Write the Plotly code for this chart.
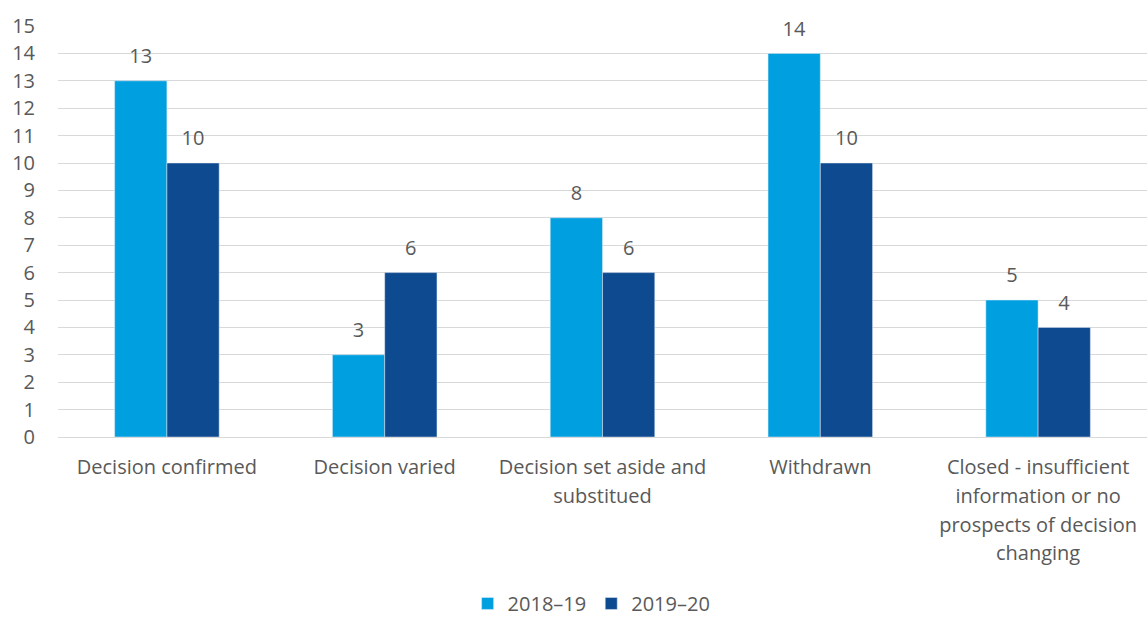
import plotly.graph_objects as go

categories = [
    "Decision confirmed",
    "Decision varied",
    "Decision set aside and<br>substitued",
    "Withdrawn",
    "Closed - insufficient<br>information or no<br>prospects of decision<br>changing",
]
series_2018 = [13, 3, 8, 14, 5]
series_2019 = [10, 6, 6, 10, 4]
tick_vals = list(range(0, 16))

FONT = "Open Sans"
GREY = "#595959"
FS = 20

# wrap category labels so the line spacing (set by the outer font) is wider
cat_labels = ["<br>".join(f"<span style='font-size:{FS}px'>{p}</span>" for p in c.split("<br>"))
              for c in categories]

label_tpl = f"<span style='font-size:{FS}px'>%{{y}}</span><br> "

fig = go.Figure()
fig.add_trace(go.Bar(
    name="2018–19", x=cat_labels, y=series_2018,
    marker_color="#00A0E0", text=series_2018, texttemplate=label_tpl, textposition="outside",
    textfont=dict(size=9, color=GREY, family=FONT), cliponaxis=False,
))
fig.add_trace(go.Bar(
    name="2019–20", x=cat_labels, y=series_2019,
    marker_color="#0E4A8F", text=series_2019, texttemplate=label_tpl, textposition="outside",
    textfont=dict(size=9, color=GREY, family=FONT), cliponaxis=False,
))

fig.update_layout(
    width=1147, height=617,
    margin=dict(l=58, r=0, t=26, b=180, autoexpand=False),
    plot_bgcolor="white", paper_bgcolor="white",
    barmode="group", bargap=0.52, bargroupgap=0,
    font=dict(family=FONT, size=FS, color=GREY),
    legend=dict(orientation="h", x=0.49, xanchor="center", y=-0.405, yanchor="middle",
                font=dict(size=FS, color=GREY), traceorder="normal",
                itemwidth=30, tracegroupgap=0),
    showlegend=True,
)
fig.update_yaxes(range=[0, 15], tickvals=tick_vals, showgrid=True, gridcolor="#D9D9D9",
                 gridwidth=1, zeroline=False, ticks="", ticklabelstandoff=22,
                 tickfont=dict(size=FS, color=GREY), automargin=False)
fig.update_xaxes(showline=True, linecolor="#D9D9D9", linewidth=1, ticks="",
                 ticklabelstandoff=10, tickfont=dict(size=22, color=GREY), automargin=False)

fig.write_html("out.html")
